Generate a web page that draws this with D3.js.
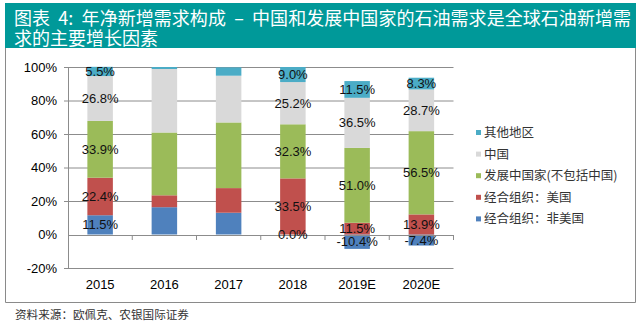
<!DOCTYPE html>
<html>
<head>
<meta charset="utf-8">
<script src="https://cdn.jsdelivr.net/npm/d3@7"></script>
<style>
  body { margin: 0; background: #fff; }
  svg { display: block; }
  .tick text { font-family: "Liberation Sans", Arial, sans-serif; font-size: 13px; fill: #000; }
  .title { white-space: pre; }
</style>
</head>
<body>
<div id="chart"></div>
<script>
// categories and series
var years = ["2015", "2016", "2017", "2018", "2019E", "2020E"];
var seriesNames = ["经合组织：非美国", "经合组织：美国", "发展中国家(不包括中国)", "中国", "其他地区"];
var seriesColors = ["#4F81BD", "#C0504D", "#9BBB59", "#D9D9D9", "#4BACC6"];

// bar heights (%)
var oecdNonUS = [11.5, 16.3, 13.0, 0.0, -8.6, -6.6];
var oecdUS = [22.4, 7.1, 14.7, 33.5, 7.0, 12.0];
var developing = [33.9, 37.5, 39.2, 32.3, 44.7, 49.7];
var china = [26.8, 37.9, 27.9, 25.2, 29.9, 24.9];
var others = [5.5, 1.2, 5.0, 9.0, 10.0, 7.0];

// printed data labels (null = no label)
var lblNonUS = ["11.5%", null, null, "0.0%", "-10.4%", "-7.4%"];
var lblUS = ["22.4%", null, null, "33.5%", "11.5%", "13.9%"];
var lblDev = ["33.9%", null, null, "32.3%", "51.0%", "56.5%"];
var lblChina = ["26.8%", null, null, "25.2%", "36.5%", "28.7%"];
var lblOther = ["5.5%", null, null, "9.0%", "11.5%", "8.3%"];

var yTicks = [-20, 0, 20, 40, 60, 80, 100];
var titleLines = ["图表  4:  年净新增需求构成  –  中国和发展中国家的石油需求是全球石油新增需", "求的主要增长因素"];
var sourceText = "资料来源：欧佩克、农银国际证券";

var allValues = [oecdNonUS, oecdUS, developing, china, others];
var allLabels = [lblNonUS, lblUS, lblDev, lblChina, lblOther];

var W = 640, H = 323;
var svg = d3.select("#chart").append("svg").attr("width", W).attr("height", H);

// title bar
svg.append("rect").attr("x", 5).attr("y", 3).attr("width", 631).attr("height", 45).attr("fill", "#009999");
svg.selectAll(".title").data(titleLines).enter().append("text")
    .attr("class", "title")
    .attr("x", 14)
    .attr("y", (d, i) => 25 + i * 19.5)
    .attr("fill", "#fff")
    .attr("font-family", "'Noto Sans CJK SC', sans-serif")
    .attr("font-size", "18px")
    .text(d => d);
svg.selectAll(".title").filter((d, i) => i === 0)
    .attr("textLength", 617).attr("lengthAdjust", "spacing");

// frame
svg.append("path")
    .attr("d", "M5.5,48 V302.5 H635.5 V48")
    .attr("fill", "none").attr("stroke", "#8a8a8a").attr("stroke-width", 1);

var plotL = 68, plotR = 453.5;
var x = d3.scaleBand().domain(years).range([plotL, plotR]).paddingInner(0).paddingOuter(0);
var y = d3.scaleLinear().domain([-20, 100]).range([268, 67]);
var barW = 25.5;

// gridlines + y labels
var yAxis = d3.axisLeft(y).tickValues(yTicks).tickFormat(d => d + "%")
    .tickSize(-(plotR - plotL)).tickPadding(11);
var gy = svg.append("g").attr("transform", `translate(${plotL},0)`).call(yAxis);
gy.select(".domain").remove();
gy.selectAll(".tick line").attr("x1", -4).attr("stroke", "#8c8c8c");
gy.selectAll(".tick line").filter(d => d === 0).remove();

// vertical axis line
svg.append("line").attr("x1", plotL + 0.5).attr("x2", plotL + 0.5)
    .attr("y1", y(100)).attr("y2", y(-20)).attr("stroke", "#8c8c8c");

// stacked data
var rows = years.map(function(yr, i) {
    var r = { year: yr };
    seriesNames.forEach((s, k) => r[s] = allValues[k][i]);
    return r;
});
var stack = d3.stack().keys(seriesNames).offset(d3.stackOffsetDiverging);
var layers = stack(rows);

var gLayer = svg.selectAll(".layer").data(layers).enter().append("g")
    .attr("fill", (d, k) => seriesColors[k]);
gLayer.selectAll("rect").data(d => d).enter().append("rect")
    .attr("x", d => x(d.data.year) + x.bandwidth() / 2 - barW / 2)
    .attr("width", barW)
    .attr("y", d => y(Math.max(d[0], d[1])))
    .attr("height", d => Math.abs(y(d[0]) - y(d[1])));

// zero axis line with ticks at band edges
svg.append("line").attr("x1", plotL).attr("x2", plotR)
    .attr("y1", Math.round(y(0)) + 0.5).attr("y2", Math.round(y(0)) + 0.5).attr("stroke", "#8c8c8c");
var edges = years.map(d => x(d) + x.bandwidth());
svg.selectAll(".xtick").data(edges).enter().append("line")
    .attr("x1", d => d).attr("x2", d => d)
    .attr("y1", Math.round(y(0))).attr("y2", Math.round(y(0)) + 5)
    .attr("stroke", "#8c8c8c");

// year labels
var gx = svg.append("g").attr("transform", `translate(0,${y(-20)})`)
    .call(d3.axisBottom(x).tickSize(0).tickPadding(12));
gx.select(".domain").remove();

// data labels
layers.forEach(function(layer, k) {
    svg.append("g").selectAll("text").data(layer.filter((d, i) => allLabels[k][i] !== null))
        .enter().append("text")
        .attr("x", d => x(d.data.year) + x.bandwidth() / 2)
        .attr("y", d => y((d[0] + d[1]) / 2))
        .attr("dy", "0.35em")
        .attr("text-anchor", "middle")
        .attr("font-family", "'Liberation Sans', Arial, sans-serif")
        .attr("font-size", "13px")
        .attr("fill", "#111")
        .text(d => allLabels[k][years.indexOf(d.data.year)]);
});

// legend (top item = 其他地区)
var legendItems = seriesNames.map((s, k) => ({ name: s, color: seriesColors[k] })).reverse();
var legend = svg.selectAll(".legend").data(legendItems).enter().append("g")
    .attr("transform", (d, i) => `translate(476,${132.5 + i * 21.6})`);
legend.append("rect").attr("x", 0).attr("y", -2.5).attr("width", 5).attr("height", 5).attr("fill", d => d.color);
legend.append("text").attr("x", 8).attr("dy", "0.36em")
    .attr("font-family", "'Noto Sans CJK SC', sans-serif")
    .attr("font-size", "12.5px")
    .attr("fill", "#333")
    .text(d => d.name);

// source
svg.append("text").attr("x", 15).attr("y", 318.5)
    .attr("font-family", "'Noto Sans CJK SC', sans-serif")
    .attr("font-size", "11.6px")
    .attr("fill", "#333")
    .text(sourceText);
</script>
</body>
</html>
